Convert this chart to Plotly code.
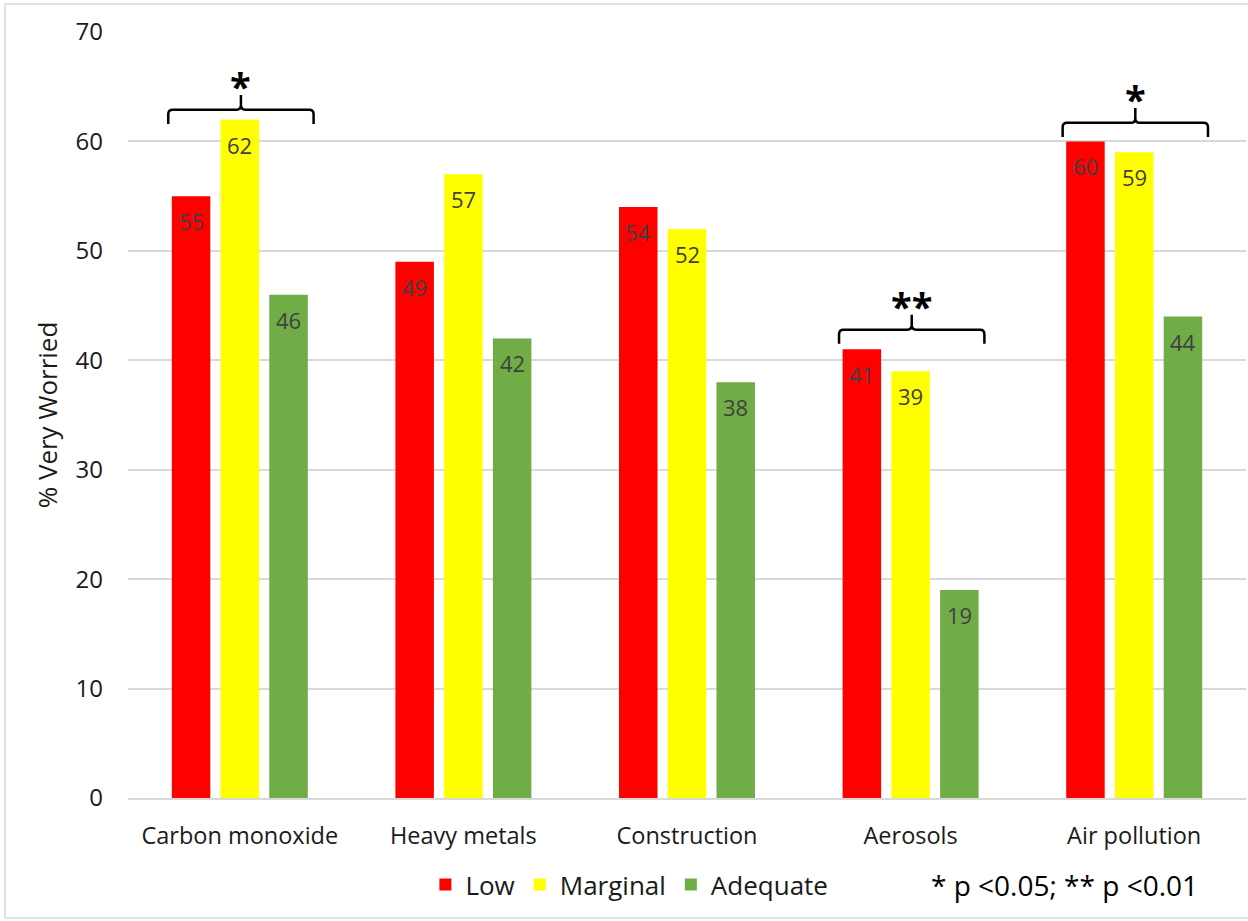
import plotly.graph_objects as go

# Survey results: share of respondents "very worried", by literacy group
categories = ["Carbon monoxide", "Heavy metals", "Construction", "Aerosols", "Air pollution"]
low = [55, 49, 54, 41, 60]
marginal = [62, 57, 52, 39, 59]
adequate = [46, 42, 38, 19, 44]

series_names = ["Low", "Marginal", "Adequate"]
series_values = [low, marginal, adequate]
series_colors = ["#ff0000", "#ffff00", "#70ad47"]

y_ticks = [0, 10, 20, 30, 40, 50, 60, 70]

# Significance brackets: category, marker, bracket base level
sig_categories = ["Carbon monoxide", "Aerosols", "Air pollution"]
sig_marks = ["*", "**", "*"]
sig_levels = [62.9, 42.8, 61.7]

FONT = "Open Sans"
BARGAP = 0.346
GROUPGAP = 0.21
slot = (1 - BARGAP) / len(series_names)

x_pos = list(range(len(categories)))

fig = go.Figure()
for name, vals, col in zip(series_names, series_values, series_colors):
    fig.add_trace(go.Bar(
        x=x_pos, y=vals, name=name,
        marker=dict(color=col, line=dict(width=0)),
    ))

annotations = []
# value labels just inside the top of each bar
for k, vals in enumerate(series_values):
    off = (k - (len(series_names) - 1) / 2) * slot
    for i, v in enumerate(vals):
        annotations.append(dict(
            x=x_pos[i] + off, y=v, xref="x", yref="y",
            text=str(v), showarrow=False, yanchor="top", yshift=-8,
            font=dict(family=FONT, size=22, color="#404040"),
        ))

shapes = []
half_l, half_r = 0.32, 0.33
dx, dy = 0.02, 0.4
hook, tip = 1.3, 1.35
for cat, mark, yh in zip(sig_categories, sig_marks, sig_levels):
    c = categories.index(cat)
    xl, xr = c - half_l, c + half_r
    xc = (xl + xr) / 2
    ye, yt = yh - hook, yh + tip
    path = (
        f"M {xl},{ye} L {xl},{yh - dy} Q {xl},{yh} {xl + dx},{yh} "
        f"L {xc - dx},{yh} Q {xc},{yh} {xc},{yh + dy} L {xc},{yt} "
        f"M {xc},{yh + dy} Q {xc},{yh} {xc + dx},{yh} "
        f"L {xr - dx},{yh} Q {xr},{yh} {xr},{yh - dy} L {xr},{ye}"
    )
    shapes.append(dict(type="path", path=path, xref="x", yref="y",
                       line=dict(color="black", width=2.5)))
    annotations.append(dict(
        x=xc, y=yt, xref="x", yref="y", text=f"<b>{mark}</b>", showarrow=False,
        yanchor="bottom", yshift=-19,
        font=dict(family=FONT, size=38, color="black"),
    ))

# significance key
annotations.append(dict(
    x=1.0, y=-0.113, xref="paper", yref="paper", xanchor="right", yanchor="middle",
    xshift=-46, text="* p &lt;0.05; ** p &lt;0.01", showarrow=False,
    font=dict(family=FONT, size=28, color="black"),
))

# outer frame
shapes.append(dict(type="rect", xref="paper", yref="paper",
                   x0=-0.110, x1=1.004, y0=-0.1567, y1=1.0366,
                   line=dict(color="#d9d9d9", width=1.5), layer="below"))

fig.update_layout(
    width=1248, height=921,
    margin=dict(l=128, r=2, t=32, b=123),
    paper_bgcolor="white", plot_bgcolor="white",
    barmode="group", bargap=BARGAP, bargroupgap=GROUPGAP,
    font=dict(family=FONT, color="#1a1a1a"),
    showlegend=True,
    legend=dict(orientation="h", x=0.266, xanchor="left", y=-0.113, yanchor="middle",
                font=dict(family=FONT, size=26, color="#1a1a1a"),
                bgcolor="rgba(0,0,0,0)"),
    xaxis=dict(
        range=[-0.5, len(categories) - 0.5],
        tickmode="array", tickvals=x_pos, ticktext=categories,
        tickfont=dict(family=FONT, size=23.5, color="#1a1a1a"),
        showgrid=False, zeroline=False,
        showline=True, linecolor="#d9d9d9", linewidth=1.5,
        ticks="", ticklabelstandoff=16,
    ),
    yaxis=dict(
        range=[0, 70], tickmode="array", tickvals=y_ticks,
        tickfont=dict(family=FONT, size=24, color="#1a1a1a"),
        showgrid=True, gridcolor="#d9d9d9", gridwidth=1.5,
        zeroline=False, showline=False, ticks="", ticklabelstandoff=24,
        title=dict(text="% Very Worried", standoff=10,
                   font=dict(family=FONT, size=26, color="#1a1a1a")),
    ),
    shapes=shapes,
    annotations=annotations,
)

fig.write_html("out.html")
